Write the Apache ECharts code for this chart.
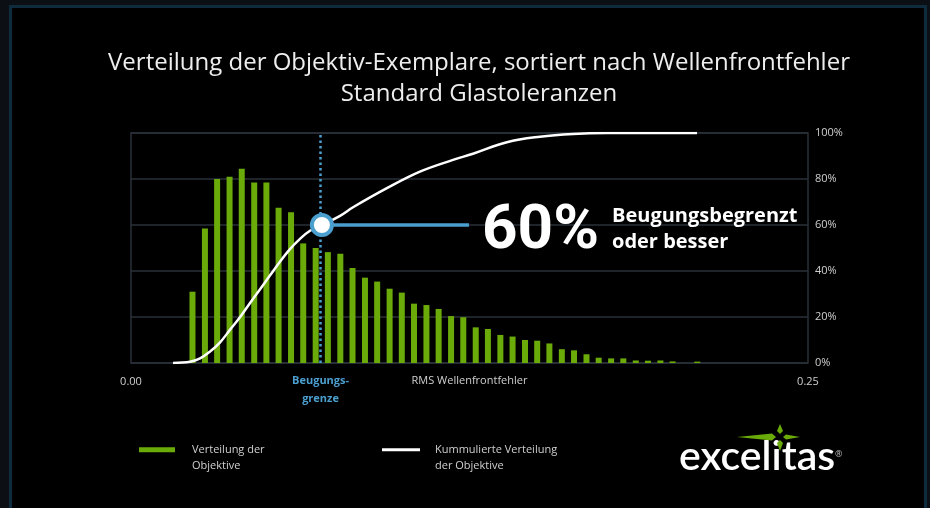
<!DOCTYPE html>
<html>
<head>
<meta charset="utf-8">
<script src="https://cdn.jsdelivr.net/npm/echarts@6/dist/echarts.min.js"></script>
<style>
  html, body { margin: 0; padding: 0; background: #0c1015; }
  #frame { position: absolute; left: 9px; top: 5px; width: 912px; height: 510px; border: 3px solid #0f2c3e; background: #000; }
  #chart { position: absolute; left: 0; top: 0; width: 930px; height: 508px; }
</style>
</head>
<body>
<div id="frame"></div>
<div id="chart"></div>
<script>
// RMS wavefront error (bin centres) and share of lenses per bin (%)
var binCenters = [0.0227, 0.0273, 0.0318, 0.0364, 0.0409, 0.0455, 0.0500, 0.0545, 0.0591, 0.0636,
                  0.0682, 0.0727, 0.0773, 0.0818, 0.0864, 0.0909, 0.0955, 0.1000, 0.1045, 0.1091,
                  0.1136, 0.1182, 0.1227, 0.1273, 0.1318, 0.1364, 0.1409, 0.1455, 0.1500, 0.1545,
                  0.1591, 0.1636, 0.1682, 0.1727, 0.1773, 0.1818, 0.1864, 0.1909, 0.1955, 0.2000,
                  0.2091];
var binShare = [31, 58.5, 80, 81, 84.5, 78.5, 78.5, 67.5, 65.5, 52,
                50, 48.2, 47.5, 41.3, 37.1, 35.4, 32.3, 30.6, 25.8, 25.2,
                23.5, 20.4, 19.9, 15.5, 14.8, 12.2, 11.5, 10, 9.7, 8.5,
                6, 5.5, 3.8, 2.3, 2, 2, 1.1, 1, 1.1, 0.7,
                0.6];

// cumulative curve
var cumX = [0.0155, 0.0218, 0.0255, 0.0292, 0.0329, 0.0366, 0.0403, 0.0439, 0.0476, 0.0513,
            0.0550, 0.0587, 0.0624, 0.0661, 0.0705, 0.0772, 0.0820, 0.0945, 0.1067, 0.1189,
            0.1263, 0.1388, 0.1510, 0.1632, 0.1758, 0.2090];
var cumY = [0, 0.5, 2, 5, 9, 14.5, 20, 26, 32, 38,
            44, 49.5, 54, 57.5, 60, 64, 67.7, 76, 83.2, 88.3,
            91, 96, 98.4, 99.6, 100, 100];

var diffLimit = 0.0705;
var diffShare = 60;
var calloutEnd = 0.1248;

var yTicks = [0, 20, 40, 60, 80, 100];

var green = '#6aab0a';
var blue = '#4b9fcf';
var font = 'Open Sans';

var barData = [];
for (var i = 0; i < binCenters.length; i++) {
  barData.push([binCenters[i], binShare[i]]);
}
var lineData = [];
for (var j = 0; j < cumX.length; j++) {
  lineData.push([cumX[j], cumY[j]]);
}

function legendText(name) {
  // blank first line so the first label line sits level with the icon
  return ' \n' + name;
}

var myChart = echarts.init(document.getElementById('chart'));
var options = {};
options.backgroundColor = 'transparent';
options.title = {
  text: 'Verteilung der Objektiv-Exemplare, sortiert nach Wellenfrontfehler\nStandard Glastoleranzen',
  left: 479,
  textAlign: 'center',
  top: 48,
  padding: 0,
  textStyle: { color: '#eeeeee', fontFamily: font, fontSize: 24, fontWeight: 'normal', lineHeight: 31 }
};
options.grid = {
  left: 131, right: 122, top: 133, bottom: 145,
  show: true, borderColor: '#2a3038', borderWidth: 1.5
};
options.legend = [
  {
    data: ['Verteilung der\nObjektive'],
    left: 139, top: 425, padding: 0,
    icon: 'rect', itemWidth: 36, itemHeight: 5,
    formatter: legendText,
    textStyle: { color: '#cfcfcf', fontFamily: font, fontSize: 11, lineHeight: 16.5, padding: [0, 0, 0, 12] }
  },
  {
    data: ['Kummulierte Verteilung\nder Objektive'],
    left: 382, top: 425, padding: 0,
    icon: 'rect', itemWidth: 38, itemHeight: 3,
    formatter: legendText,
    textStyle: { color: '#cfcfcf', fontFamily: font, fontSize: 11, lineHeight: 16.5, padding: [0, 0, 0, 10] }
  }
];
options.xAxis = {
  type: 'value', min: 0, max: 0.25, interval: 0.25,
  name: 'RMS Wellenfrontfehler', nameLocation: 'middle', nameGap: 12, nameMoveOverlap: false,
  nameTextStyle: { color: '#cfcfcf', fontFamily: font, fontSize: 11, verticalAlign: 'top' },
  axisLine: { show: false }, axisTick: { show: false }, splitLine: { show: false },
  axisLabel: { color: '#cfcfcf', fontFamily: font, fontSize: 11, margin: 13,
    formatter: function (v) { return v.toFixed(2); } }
};
options.yAxis = {
  type: 'value', position: 'right', min: yTicks[0], max: yTicks[yTicks.length - 1], interval: 20,
  axisLine: { show: false }, axisTick: { show: false },
  splitLine: { lineStyle: { color: '#2a3038', width: 1.5 } },
  axisLabel: { color: '#cfcfcf', fontFamily: font, fontSize: 11, margin: 7, formatter: '{value}%' }
};
options.series = [
  {
    name: 'Verteilung der\nObjektive',
    type: 'bar',
    data: barData,
    barWidth: 6,
    itemStyle: { color: green },
    markLine: {
      silent: true,
      symbol: 'none',
      lineStyle: { color: blue, type: [2.5, 3], width: 2.5 },
      label: {
        show: true, position: 'start', distance: 9,
        formatter: 'Beugungs-\ngrenze',
        color: blue, fontFamily: font, fontSize: 11, fontWeight: 'bold', lineHeight: 18
      },
      data: [{ xAxis: diffLimit }]
    },
    z: 2
  },
  {
    name: 'Kummulierte Verteilung\nder Objektive',
    type: 'line',
    data: lineData,
    smooth: 0.4,
    showSymbol: false,
    itemStyle: { color: '#ffffff' },
    lineStyle: { color: '#ffffff', width: 2.5 },
    markLine: {
      silent: true,
      symbol: 'none',
      lineStyle: { color: blue, type: 'solid', width: 3.5 },
      label: { show: false },
      data: [[{ coord: [diffLimit, diffShare] }, { coord: [calloutEnd, diffShare] }]]
    },
    markPoint: {
      silent: true,
      symbol: 'circle',
      symbolSize: 20,
      itemStyle: { color: '#ffffff', borderColor: blue, borderWidth: 4 },
      label: { show: false },
      data: [{ coord: [diffLimit, diffShare] }]
    },
    z: 3
  }
];
options.graphic = [
  { type: 'text', left: 482, top: 201, z: 10,
    style: { text: '60%', fill: '#ffffff', font: 'bold 62px Roboto' } },
  { type: 'text', left: 612, top: 203, z: 10,
    style: { text: 'Beugungsbegrenzt\noder besser', fill: '#ffffff', font: 'bold 20px ' + font, lineHeight: 26 } },
  // logo
  { type: 'text', left: 679, top: 436, z: 10,
    style: { text: 'excelitas', fill: '#ffffff', font: '600 41px Lato' } },
  { type: 'text', left: 835, top: 450, z: 10,
    style: { text: '®', fill: '#bbbbbb', font: '9px ' + font } },
  { type: 'polygon', z: 11, shape: { points: [[737, 437], [772, 433.5], [776, 437], [772, 440.5]] }, style: { fill: green } },
  { type: 'polygon', z: 11, shape: { points: [[800, 437], [786, 434.5], [783, 437], [786, 439.5]] }, style: { fill: green } },
  { type: 'polygon', z: 11, shape: { points: [[780, 424], [783, 431], [780, 434], [777, 431]] }, style: { fill: green } },
  { type: 'polygon', z: 11, shape: { points: [[780, 451], [783, 443], [780, 440], [777, 443]] }, style: { fill: green } }
];
myChart.setOption(options);
</script>
</body>
</html>
